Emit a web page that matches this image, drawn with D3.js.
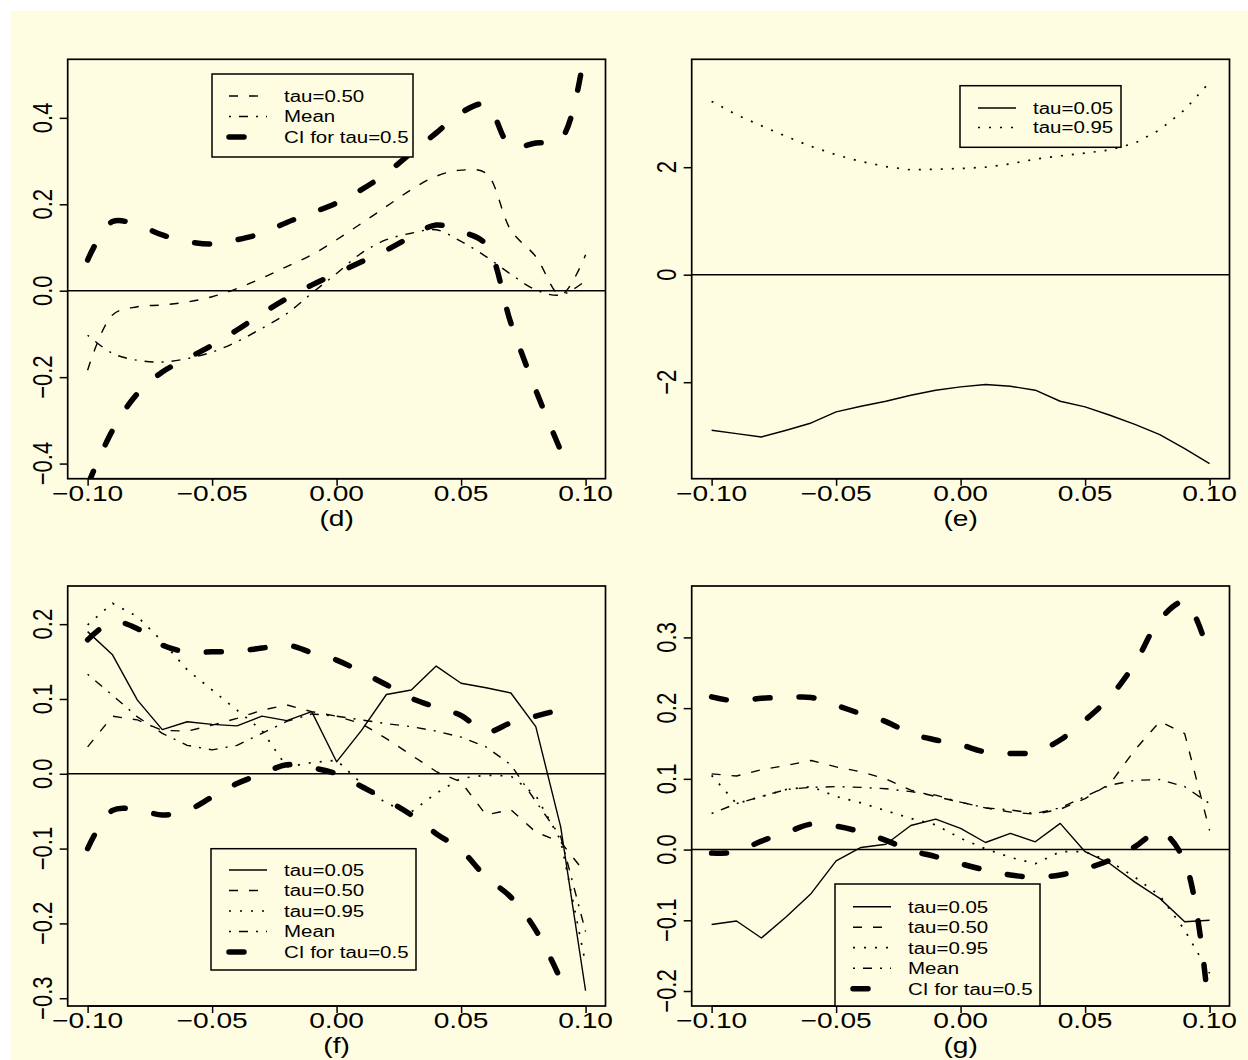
<!DOCTYPE html>
<html><head><meta charset="utf-8">
<script src="https://cdn.jsdelivr.net/npm/d3@7/dist/d3.min.js"></script>
<style>html,body{margin:0;padding:0;background:#ffffff;}</style>
</head><body>
<svg id="chart" width="1248" height="1060"></svg>
<script>
// ---------------- DATA ----------------
const xValues = [-0.10,-0.09,-0.08,-0.07,-0.06,-0.05,-0.04,-0.03,-0.02,-0.01,0.00,0.01,0.02,0.03,0.04,0.05,0.06,0.07,0.08,0.09,0.10];
const xValuesTo009 = [-0.10,-0.09,-0.08,-0.07,-0.06,-0.05,-0.04,-0.03,-0.02,-0.01,0.00,0.01,0.02,0.03,0.04,0.05,0.06,0.07,0.08,0.09];
const xTickValues = [-0.10,-0.05,0.00,0.05,0.10];
const xTickLabels = ["\u22120.10","\u22120.05","0.00","0.05","0.10"];

// panel (d)
const dTau50   = [-0.184,-0.056,-0.037,-0.033,-0.026,-0.014,0.005,0.029,0.056,0.083,0.118,0.156,0.195,0.234,0.265,0.279,0.272,0.140,0.079,-0.010,0.083];
const dMean    = [-0.103,-0.145,-0.161,-0.165,-0.157,-0.142,-0.118,-0.087,-0.053,-0.006,0.040,0.087,0.118,0.133,0.141,0.114,0.079,0.038,0.002,-0.010,0.023];
const dCIUpper = [0.071,0.160,0.152,0.129,0.114,0.108,0.118,0.133,0.158,0.180,0.203,0.234,0.272,0.319,0.365,0.412,0.431,0.334,0.342,0.350,0.570];
const dCILower = [-0.450,-0.323,-0.238,-0.188,-0.157,-0.126,-0.091,-0.053,-0.018,0.013,0.040,0.067,0.094,0.125,0.152,0.137,0.107,-0.075,-0.230,-0.370];
const dYTicks = [-0.4,-0.2,0.0,0.2,0.4];
const dYTickLabels = ["\u22120.4","\u22120.2","0.0","0.2","0.4"];
const dLegendLabels = ["tau=0.50","Mean","CI for tau=0.5"];

// panel (e)
const eTau05 = [-2.894,-2.957,-3.019,-2.894,-2.758,-2.553,-2.447,-2.354,-2.242,-2.149,-2.087,-2.043,-2.075,-2.149,-2.354,-2.460,-2.615,-2.783,-2.975,-3.236,-3.516];
const eTau95 = [3.224,2.975,2.770,2.571,2.385,2.230,2.106,2.012,1.950,1.963,1.975,2.000,2.062,2.149,2.211,2.261,2.323,2.447,2.696,3.068,3.578];
const eYTicks = [-2,0,2];
const eYTickLabels = ["\u22122","0","2"];
const eLegendLabels = ["tau=0.05","tau=0.95"];

// panel (f)
const fTau05 = [0.190,0.159,0.0985,0.059,0.0695,0.066,0.064,0.077,0.071,0.083,0.016,0.058,0.106,0.112,0.144,0.121,0.115,0.108,0.063,-0.071,-0.290];
const fTau50 = [0.036,0.077,0.072,0.058,0.057,0.065,0.074,0.085,0.092,0.083,0.077,0.067,0.047,0.025,0.003,-0.011,-0.055,-0.048,-0.078,-0.091,-0.133];
const fTau95 = [0.199,0.228,0.210,0.177,0.139,0.112,0.085,0.058,0.009,0.015,0.018,-0.013,-0.040,-0.051,-0.026,-0.006,-0.002,-0.003,-0.029,-0.089,-0.254];
const fMean  = [0.133,0.105,0.076,0.054,0.038,0.032,0.038,0.054,0.070,0.080,0.077,0.072,0.067,0.063,0.057,0.049,0.036,0.012,-0.037,-0.084,-0.211];
const fCIUpper = [0.179,0.203,0.194,0.172,0.163,0.163,0.164,0.168,0.172,0.162,0.152,0.136,0.119,0.101,0.089,0.078,0.056,0.068,0.077,0.086];
const fCILower = [-0.100,-0.049,-0.048,-0.055,-0.049,-0.031,-0.013,0.000,0.012,0.008,0.000,-0.017,-0.035,-0.055,-0.080,-0.102,-0.138,-0.165,-0.209,-0.275];
const fYTicks = [-0.3,-0.2,-0.1,0.0,0.1,0.2];
const fYTickLabels = ["\u22120.3","\u22120.2","\u22120.1","0.0","0.1","0.2"];
const fgLegendLabels = ["tau=0.05","tau=0.50","tau=0.95","Mean","CI for tau=0.5"];

// panel (g)
const gTau05 = [-0.106,-0.101,-0.125,-0.095,-0.062,-0.016,0.003,0.0075,0.034,0.043,0.030,0.010,0.023,0.011,0.037,-0.003,-0.020,-0.046,-0.069,-0.102,-0.100];
const gTau50 = [0.107,0.104,0.113,0.119,0.126,0.117,0.110,0.100,0.084,0.075,0.067,0.059,0.053,0.050,0.057,0.072,0.093,0.141,0.181,0.164,0.027];
const gTau95 = [0.105,0.065,0.075,0.085,0.089,0.075,0.066,0.055,0.044,0.035,0.016,0.001,-0.011,-0.020,-0.003,-0.003,-0.017,-0.039,-0.065,-0.114,-0.175];
const gMean  = [0.051,0.065,0.075,0.085,0.088,0.089,0.088,0.086,0.082,0.077,0.067,0.059,0.056,0.051,0.059,0.075,0.091,0.098,0.099,0.089,0.065];
const gCIUpper = [0.216,0.210,0.214,0.215,0.215,0.204,0.192,0.181,0.164,0.155,0.148,0.138,0.136,0.138,0.155,0.183,0.216,0.263,0.325,0.350,0.273];
const gCILower = [-0.005,-0.003,0.012,0.024,0.036,0.033,0.025,0.013,-0.001,-0.010,-0.020,-0.029,-0.036,-0.039,-0.036,-0.027,-0.015,0.004,0.025,-0.017,-0.240];
const gYTicks = [-0.2,-0.1,0.0,0.1,0.2,0.3];
const gYTickLabels = ["\u22120.2","\u22120.1","0.0","0.1","0.2","0.3"];

// ---------------- DRAWING ----------------
const FONT = '"Liberation Sans", Arial, Helvetica, sans-serif';
const SX = 1.28;
const BG = '#fffde1';
const svg = d3.select('#chart');
svg.append('rect').attr('x', 11).attr('y', 11).attr('width', 1237).attr('height', 1049).attr('fill', BG);

const styles = {
  solid:   {w: 1.4, dash: null, cap: 'butt'},
  dashed:  {w: 1.4, dash: '9,11', cap: 'butt'},
  dotted:  {w: 1.7, dash: '2,9', cap: 'butt'},
  dotdash: {w: 1.4, dash: '2,8,9,8', cap: 'butt'},
  ci:      {w: 5.5, dash: '15,29', cap: 'round'}
};

function pairs(xs, ys) { return xs.map((x, i) => [x, ys[i]]); }

const panels = [
  {label: '(d)', left: 67.7, right: 605.5, top: 59.3, bottom: 478.7, yDomain: [-0.435, 0.5355],
   yTicks: dYTicks, yTickLabels: dYTickLabels, smooth: true,
   series: [
     {data: pairs(xValues, dTau50), style: 'dashed'},
     {data: pairs(xValues, dMean), style: 'dotdash'},
     {data: pairs(xValues, dCIUpper), style: 'ci'},
     {data: pairs(xValuesTo009, dCILower), style: 'ci'}],
   legend: {left: 212, top: 74, width: 201, height: 83, styles: ['dashed', 'dotdash', 'ci'], labels: dLegendLabels,
            s0: 229, s1: 267, tx: 284, ry0: 96, rstep: 20.5}},
  {label: '(e)', left: 691.7, right: 1229.5, top: 59.3, bottom: 478.7, yDomain: [-3.795, 4.007],
   yTicks: eYTicks, yTickLabels: eYTickLabels, smooth: false,
   series: [
     {data: pairs(xValues, eTau05), style: 'solid'},
     {data: pairs(xValues, eTau95), style: 'dotted'}],
   legend: {left: 960, top: 85.7, width: 161, height: 61.6, styles: ['solid', 'dotted'], labels: eLegendLabels,
            s0: 978, s1: 1016, tx: 1033, ry0: 108, rstep: 19.5}},
  {label: '(f)', left: 67.7, right: 605.5, top: 586, bottom: 1006, yDomain: [-0.3104, 0.251],
   yTicks: fYTicks, yTickLabels: fYTickLabels, smooth: false,
   series: [
     {data: pairs(xValues, fTau05), style: 'solid'},
     {data: pairs(xValues, fTau50), style: 'dashed'},
     {data: pairs(xValues, fTau95), style: 'dotted'},
     {data: pairs(xValues, fMean), style: 'dotdash'},
     {data: pairs(xValuesTo009, fCIUpper), style: 'ci'},
     {data: pairs(xValuesTo009, fCILower), style: 'ci'}],
   legend: {left: 211, top: 848.7, width: 205, height: 121.3, styles: ['solid', 'dashed', 'dotted', 'dotdash', 'ci'], labels: fgLegendLabels,
            s0: 229, s1: 267, tx: 284, ry0: 870, rstep: 20.5}},
  {label: '(g)', left: 691.7, right: 1229.5, top: 586, bottom: 1006, yDomain: [-0.2212, 0.3727],
   yTicks: gYTicks, yTickLabels: gYTickLabels, smooth: false,
   series: [
     {data: pairs(xValues, gTau05), style: 'solid'},
     {data: pairs(xValues, gTau50), style: 'dashed'},
     {data: pairs(xValues, gTau95), style: 'dotted'},
     {data: pairs(xValues, gMean), style: 'dotdash'},
     {data: pairs(xValues, gCIUpper), style: 'ci'},
     {data: pairs(xValues, gCILower), style: 'ci'}],
   legend: {left: 835, top: 884, width: 205, height: 122, styles: ['solid', 'dashed', 'dotted', 'dotdash', 'ci'], labels: fgLegendLabels,
            s0: 853, s1: 891, tx: 908, ry0: 906.7, rstep: 20.5}}
];

function applyStyle(sel, key) {
  const s = styles[key];
  sel.attr('fill', 'none').attr('stroke', '#000').attr('stroke-width', s.w)
     .attr('stroke-linecap', s.cap).attr('stroke-linejoin', 'round');
  if (s.dash) sel.attr('stroke-dasharray', s.dash);
  return sel;
}

panels.forEach((p, pi) => {
  const x = d3.scaleLinear().domain([-0.108, 0.108]).range([p.left, p.right]);
  const y = d3.scaleLinear().domain(p.yDomain).range([p.bottom, p.top]);
  const g = svg.append('g');
  const clipId = 'clip' + pi;
  svg.append('clipPath').attr('id', clipId).append('rect')
     .attr('x', p.left).attr('y', p.top).attr('width', p.right - p.left).attr('height', p.bottom - p.top);

  const plot = g.append('g').attr('clip-path', 'url(#' + clipId + ')');
  plot.append('line').attr('x1', p.left).attr('x2', p.right).attr('y1', y(0)).attr('y2', y(0))
      .attr('stroke', '#000').attr('stroke-width', 1.6);

  p.series.forEach(s => {
    const curve = (p.smooth || s.style === 'ci') ? d3.curveCatmullRom.alpha(0.5) : d3.curveLinear;
    const line = d3.line().x(d => x(d[0])).y(d => y(d[1])).curve(curve);
    applyStyle(plot.append('path').attr('d', line(s.data)), s.style);
  });

  g.append('rect').attr('x', p.left).attr('y', p.top).attr('width', p.right - p.left).attr('height', p.bottom - p.top)
   .attr('fill', 'none').attr('stroke', '#000').attr('stroke-width', 1.7);

  const xAxis = d3.axisBottom(x).tickValues(xTickValues).tickSize(7).tickFormat('');
  const xg = g.append('g').attr('transform', `translate(0,${p.bottom})`).call(xAxis);
  xg.select('.domain').attr('d', `M${x(-0.10)},0H${x(0.10)}`).attr('stroke-width', 1.5);
  xg.selectAll('.tick line').attr('stroke-width', 1.5);
  xTickValues.forEach((v, i) => {
    g.append('text').attr('transform', `translate(${x(v)},${p.bottom + 22}) scale(${SX},1)`)
     .attr('text-anchor', 'middle').attr('font-family', FONT).attr('font-size', 22).attr('fill', '#000')
     .text(xTickLabels[i]);
  });

  const yAxis = d3.axisLeft(y).tickValues(p.yTicks).tickSize(8).tickFormat('');
  const yg = g.append('g').attr('transform', `translate(${p.left},0)`).call(yAxis);
  yg.select('.domain').remove();
  yg.selectAll('.tick line').attr('stroke-width', 1.5);
  p.yTicks.forEach((v, i) => {
    g.append('text').attr('transform', `translate(${p.left - 16},${y(v)}) scale(${SX},1) rotate(-90)`)
     .attr('text-anchor', 'middle').attr('font-family', FONT).attr('font-size', 22).attr('fill', '#000')
     .text(p.yTickLabels[i]);
  });

  g.append('text').attr('transform', `translate(${x(0)},${p.bottom + 47}) scale(${SX},1)`)
   .attr('text-anchor', 'middle').attr('font-family', FONT).attr('font-size', 22).attr('fill', '#000')
   .text(p.label);

  const L = p.legend;
  const lg = g.append('g');
  lg.append('rect').attr('x', L.left).attr('y', L.top).attr('width', L.width).attr('height', L.height)
    .attr('fill', BG).attr('stroke', '#000').attr('stroke-width', 1.5);
  L.labels.forEach((lab, i) => {
    const ry = L.ry0 + i * L.rstep;
    applyStyle(lg.append('line').attr('x1', L.s0).attr('x2', L.s1).attr('y1', ry).attr('y2', ry), L.styles[i]);
    lg.append('text').attr('transform', `translate(${L.tx},${ry + 5.8}) scale(${SX},1)`)
      .attr('font-family', FONT).attr('font-size', 16).attr('fill', '#000').text(lab);
  });
});
</script>
</body></html>
